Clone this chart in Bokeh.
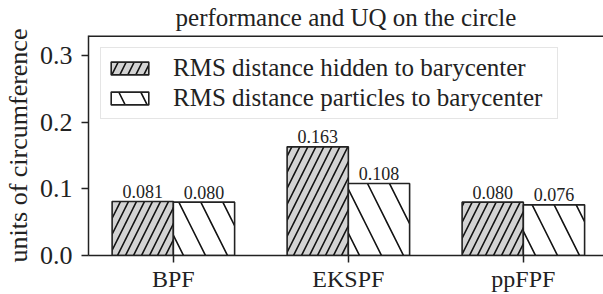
from bokeh.plotting import figure
from bokeh.models import (FixedTicker, Legend, LegendItem, Span,
                          ColumnDataSource, PrintfTickFormatter)
from bokeh.embed import file_html
from bokeh.resources import INLINE
from bokeh.core.properties import value

# ---- data ----
categories = ["BPF", "EKSPF", "ppFPF"]
series_names = ["RMS distance hidden to barycenter",
                "RMS distance particles to barycenter"]
hidden_vals = [0.081, 0.163, 0.080]
particle_vals = [0.080, 0.108, 0.076]
y_ticks = [0.0, 0.1, 0.2, 0.3]
y_tick_labels = ["0.0", "0.1", "0.2", "0.3"]
title_text = "performance and UQ on the circle"
y_label = "units of circumference"

FONT = "Liberation Serif"
INK = "#222222"
W, H = 603, 294
BAR_W = 0.35
Y_MAX = 0.33
pos = list(range(len(categories)))

src = ColumnDataSource(dict(
    x1=[i - BAR_W / 2 for i in pos],
    x2=[i + BAR_W / 2 for i in pos],
    h=hidden_vals,
    q=particle_vals,
    lh=["%.3f" % v for v in hidden_vals],
    lq=["%.3f" % v for v in particle_vals],
))

p = figure(width=W, height=H, output_backend="svg", toolbar_location=None,
           x_range=(-0.485, 2.458), y_range=(0, Y_MAX),
           min_border_left=88, min_border_right=0,
           min_border_top=35, min_border_bottom=38)
p.outline_line_color = None
p.grid.visible = False
p.background_fill_color = "white"
p.border_fill_color = "white"

r1 = p.vbar(x="x1", top="h", bottom=0, width=BAR_W, source=src,
            fill_color="#d3d3d3", line_color=INK, line_width=1.6,
            hatch_pattern=value("/"), hatch_color="#111111",
            hatch_scale=16, hatch_weight=1.6)
r2 = p.vbar(x="x2", top="q", bottom=0, width=BAR_W, source=src,
            fill_color="white", line_color=INK, line_width=1.6,
            hatch_pattern=value("\\"), hatch_color="#111111",
            hatch_scale=44, hatch_weight=1.6)

for col, top, lab in (("x1", "h", "lh"), ("x2", "q", "lq")):
    p.text(x=col, y=top, text=lab, source=src,
           text_align="center", text_baseline="middle", y_offset=-10,
           text_font=value(FONT), text_font_size=value("18px"),
           text_color=INK)

# top spine
p.add_layout(Span(location=Y_MAX, dimension="width", line_color=INK,
                  line_width=3))

# axes
for ax in (p.xaxis[0], p.yaxis[0]):
    ax.axis_line_color = INK
    ax.axis_line_width = 1.5
    ax.major_tick_line_color = INK
    ax.major_tick_line_width = 1.5
    ax.major_tick_out = 7
    ax.major_tick_in = 0
    ax.minor_tick_out = 0
    ax.minor_tick_line_color = None
    ax.major_label_text_font = FONT
    ax.major_label_text_color = INK

p.yaxis.ticker = FixedTicker(ticks=y_ticks)
p.yaxis.formatter = PrintfTickFormatter(format="%.1f")
p.yaxis.major_label_overrides = {t: l for t, l in zip(y_ticks, y_tick_labels)}
p.yaxis.major_label_text_font_size = "26px"
p.yaxis.major_label_standoff = 9
p.yaxis.axis_label = y_label
p.yaxis.axis_label_text_font = FONT
p.yaxis.axis_label_text_font_size = "26px"
p.yaxis.axis_label_text_font_style = "normal"
p.yaxis.axis_label_text_color = INK
p.yaxis.axis_label_standoff = 4

p.xaxis.ticker = FixedTicker(ticks=pos)
p.xaxis.major_label_overrides = {i: c for i, c in zip(pos, categories)}
p.xaxis.major_label_text_font_size = "24px"
p.xaxis.major_label_standoff = 3

# legend
legend = Legend(items=[LegendItem(label=series_names[0], renderers=[r1]),
                       LegendItem(label=series_names[1], renderers=[r2])],
                location="top_left", margin=12, padding=5, spacing=0,
                glyph_width=47, glyph_height=16, label_standoff=20,
                label_width=379, label_height=30,
                label_text_font=FONT, label_text_font_size="25px",
                label_text_color=INK,
                border_line_color="#cccccc", border_line_width=1.2,
                background_fill_color="white", background_fill_alpha=0.8)
p.add_layout(legend)

# title
p.title.text = title_text
p.title.align = "center"
p.title.vertical_align = "top"
p.title.text_font = FONT
p.title.text_font_size = "25px"
p.title.text_font_style = "normal"
p.title.text_color = INK
p.title.standoff = 5

open("out.html", "w").write(file_html(p, INLINE))
